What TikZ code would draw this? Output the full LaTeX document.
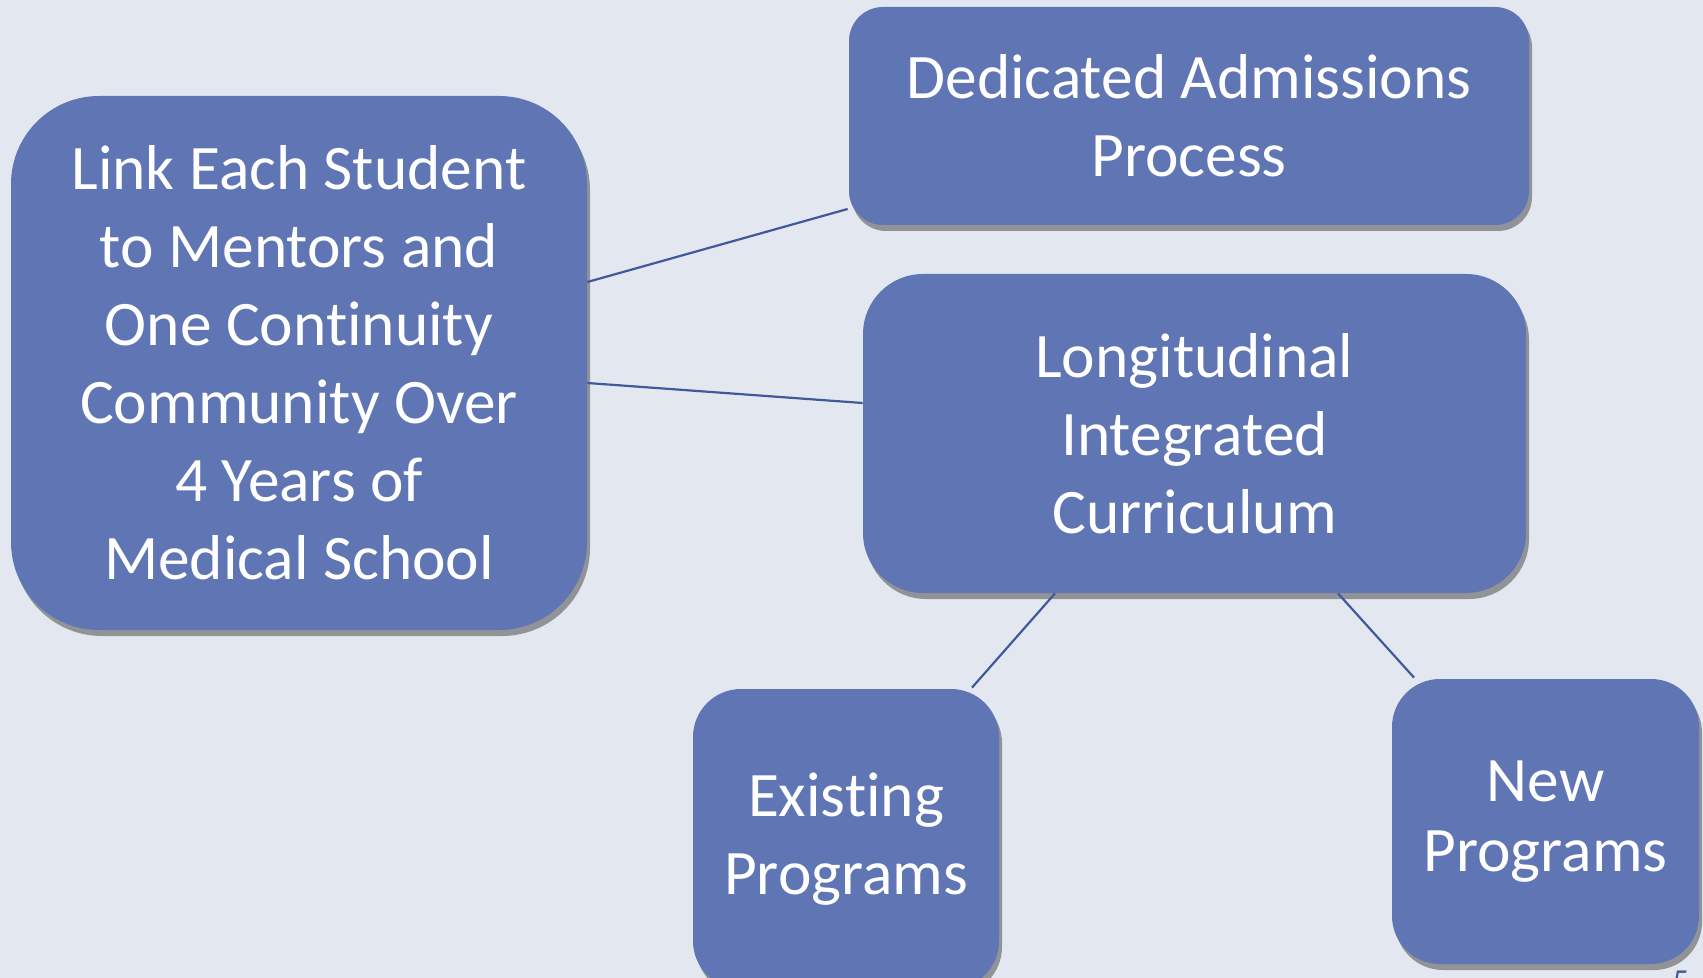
\documentclass[tikz,border=0pt]{standalone}
\usepackage{fontspec}
\setmainfont{Carlito}[Ligatures={NoCommon,NoContextual},Contextuals=NoAlternate]
\usetikzlibrary{shadows}
\definecolor{boxblue}{RGB}{96,118,180}
\definecolor{slidebg}{RGB}{227,232,240}
\definecolor{linkblue}{RGB}{65,88,154}
\begin{document}
\begin{tikzpicture}[x=0.5pt,y=-0.5pt,
	topic/.style={draw=none,fill=boxblue,text=white,align=center,inner sep=0pt,
		font=\fontsize{31.7}{39}\selectfont,
		drop shadow={shadow xshift=1.5pt,shadow yshift=-3pt,opacity=0.5,fill=black!75}},
	link/.style={draw=linkblue,line width=1.1pt}]
			% slide background
			\fill[slidebg] (0,0) rectangle (1703,978);
			\useasboundingbox (0,0) rectangle (1703,978);
			
			\node[topic,rounded corners=44pt,minimum width=288pt,minimum height=267pt] (student) at (299,363)
			{Link Each Student\\to Mentors and\\One Continuity\\Community Over\\4 Years of\\Medical School};
			\node[topic,rounded corners=17pt,minimum width=340pt,minimum height=109pt] (admit) at (1189,116)
			{Dedicated Admissions\\Process};
			\node[topic,rounded corners=30pt,minimum width=331.5pt,minimum height=159.5pt] (lic) at (1194.5,433.5)
			{Longitudinal\\Integrated\\Curriculum};
			\node[topic,rounded corners=24pt,minimum width=153pt,minimum height=150pt] (exist) at (846,839)
			{Existing\\Programs};
			\node[topic,rounded corners=24pt,minimum width=153.5pt,minimum height=142.5pt,
				font=\fontsize{31.7}{35.3}\selectfont] (new) at (1545.5,821.5)
			{New\\Programs};
			
			% connectors
			\draw[link] ([yshift=40.5pt]student.east) -- ([yshift=-46.5pt,xshift=-0.5pt]admit.west);
			\draw[link] ([yshift=-10pt]student.east) -- ([yshift=15.25pt]lic.west);
			\draw[link] ([xshift=-69.75pt]lic.south) -- ([xshift=63pt,yshift=0.5pt]exist.north);
			\draw[link] ([xshift=71.75pt]lic.south) -- ([xshift=-65.75pt,yshift=0.5pt]new.north);
			
			% slide number, cut by the page edge
			\node[text=linkblue,inner sep=0pt,anchor=north,font=\fontsize{16}{16}\selectfont] (page) at (1681,971) {5};
\end{tikzpicture}
\end{document}
